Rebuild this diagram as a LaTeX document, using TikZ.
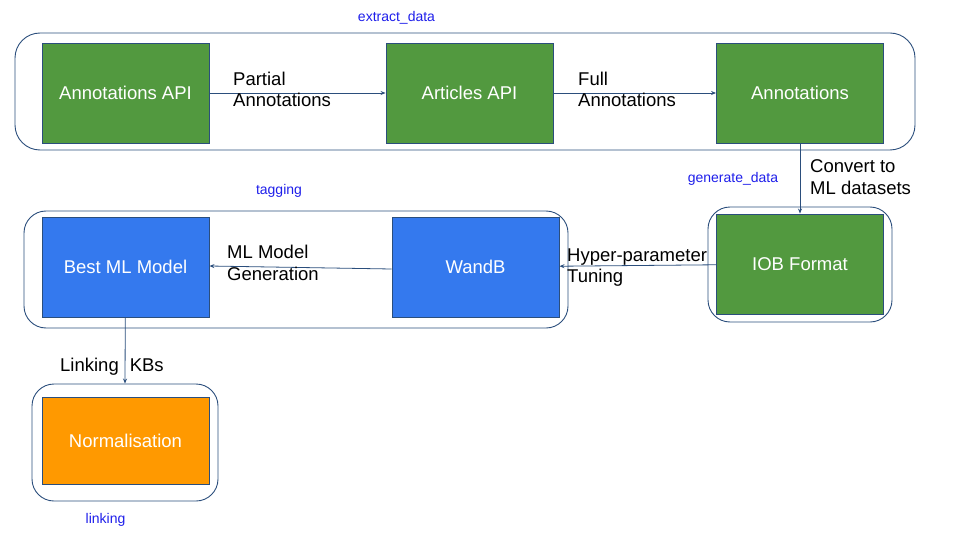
\documentclass[tikz,border=0pt]{standalone}
\usepackage{fontspec}
\setmainfont{Liberation Sans}
\usetikzlibrary{arrows.meta}
\definecolor{stepgreen}{HTML}{52993F}
\definecolor{stepblue}{HTML}{3479EE}
\definecolor{steporange}{HTML}{FF9900}
\definecolor{edgeblue}{HTML}{2B4E7C}
\definecolor{tagblue}{HTML}{1E1EEA}
\begin{document}
\begin{tikzpicture}[x=1pt,y=-1pt,
    stage/.style={draw=edgeblue,line width=.9pt,text=white,minimum width=167pt,minimum height=100pt,inner sep=0pt,font=\fontsize{18.5}{22}\selectfont},
    group/.style={draw=edgeblue,line width=.9pt,rounded corners=22pt,inner sep=0pt},
    note/.style={anchor=base west,align=left,inner sep=0pt,font=\fontsize{18.5}{21.5}\selectfont},
    tag/.style={text=tagblue,inner sep=0pt,font=\fontsize{14}{16}\selectfont},
    flow/.style={draw=edgeblue,line width=.8pt,-{Stealth[length=5pt,width=4pt]}}]
    \useasboundingbox (0,0) rectangle (960,540);
    % groups
    \node[group,rounded corners=25pt,minimum width=900pt,minimum height=117pt] (extractgrp) at (465,91.5){};
    \node[group,minimum width=184pt,minimum height=115pt] (generategrp) at (800,264.5){};
    \node[group,minimum width=544pt,minimum height=117pt] (tagginggrp) at (296,269.5){};
    \node[group,minimum width=186pt,minimum height=117pt] (linkinggrp) at (125,442.5){};
    \node[tag] (extracttag) at (396.5,18){extract\_data};
    \node[tag] (generatetag) at (733,179){generate\_data};
    \node[tag] (taggingtag) at (279,190.5){tagging};
    \node[tag] (linkingtag) at (105.5,519.5){linking};
    % steps
    \node[stage,fill=stepgreen] (annapi) at (125.5,93){Annotations API};
    \node[stage,fill=stepgreen] (artapi) at (469.5,93){Articles API};
    \node[stage,fill=stepgreen] (annot) at (800,93){Annotations};
    \node[stage,fill=stepgreen] (iob) at (800,264){IOB Format};
    \node[stage,fill=stepblue] (wandb) at (475.5,267){WandB};
    \node[stage,fill=stepblue] (best) at (125.5,267){Best ML Model};
    \node[stage,fill=steporange,minimum height=87pt] (norm) at (125.5,440.5){Normalisation};
    % connectors
    \draw[flow] (annapi) -- (artapi);
    \node[note] (partiallbl) at (233,107){Partial\\Annotations};
    \draw[flow] (artapi) -- (annot);
    \node[note] (fulllbl) at (578,107){Full\\Annotations};
    \draw[flow] (annot) -- (iob);
    \node[note] (convertlbl) at (810,194.5){Convert to\\ML datasets};
    \draw[flow] (iob) -- (wandb);
    \node[note] (hyperlbl) at (567,282.5){Hyper-parameter\\Tuning};
    \draw[flow] ([yshift=-2pt]wandb.west) -- ([yshift=1pt]best.east);
    \node[note] (genlbl) at (227,280){ML Model\\Generation};
    \draw[flow] (best) -- (linkinggrp.north);
    \node[note] (linklbl) at (60,371.5){Linking\hspace{11pt}KBs};
\end{tikzpicture}
\end{document}
